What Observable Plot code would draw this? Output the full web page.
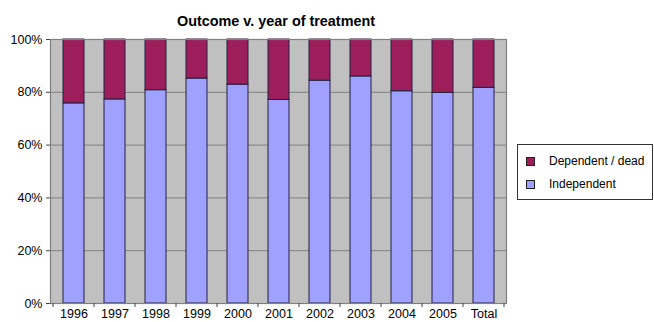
<!DOCTYPE html>
<html>
<head>
<meta charset="utf-8">
<script src="https://cdn.jsdelivr.net/npm/d3@7"></script>
<script src="https://cdn.jsdelivr.net/npm/@observablehq/plot@0.6"></script>
<style>
  body { margin: 0; background: #fff; font-family: "Liberation Sans", Arial, sans-serif; }
  #wrap { position: relative; width: 654px; height: 322px; }
  #title { position: absolute; left: 0; width: 552px; top: 13px; text-align: center; font-weight: bold; font-size: 14.4px; color: #000; }
  #legend { position: absolute; left: 517px; top: 144px; width: 134px; height: 54px; border: 1px solid #333; background: #fff; font-size: 12px; color: #000; }
  .item { position: absolute; left: 8px; display: flex; align-items: center; }
  .sw { width: 7px; height: 7px; border: 1px solid #222; margin-right: 14px; }
</style>
</head>
<body>
<div id="wrap">
  <div id="title">Outcome v. year of treatment</div>
  <div id="legend"></div>
</div>
<script>
// Share of patients independent at follow-up, by year of treatment (percent)
const categories = ["1996", "1997", "1998", "1999", "2000", "2001", "2002", "2003", "2004", "2005", "Total"];
const independent = [75.8, 77.3, 80.8, 85.2, 82.9, 77.1, 84.4, 86.0, 80.4, 79.8, 81.7];
const seriesNames = ["Independent", "Dependent / dead"];
const seriesColors = ["#a0a0ff", "#9c1f5c"];
const yTicks = [0, 20, 40, 60, 80, 100];

const rows = [];
categories.forEach((c, i) => {
  rows.push({year: c, outcome: seriesNames[0], pct: independent[i]});
  rows.push({year: c, outcome: seriesNames[1], pct: 100 - independent[i]});
});

// Tick marks sit on the boundaries between categories
function boundaryTicks(index, scales, values, dimensions) {
  const x = scales.x;
  const bw = x.bandwidth();
  const step = x.step();
  const gap = (step - bw) / 2;
  const y0 = dimensions.height - dimensions.marginBottom;
  const xs = [x(categories[0]) - gap];
  categories.forEach(c => xs.push(x(c) + bw + gap));
  const g = d3.create("svg:g");
  g.selectAll("line").data(xs).join("line")
    .attr("x1", d => d).attr("x2", d => d)
    .attr("y1", y0).attr("y2", y0 + 4)
    .attr("stroke", "#444");
  return g.node();
}

const chart = Plot.plot({
  width: 654,
  height: 322,
  marginLeft: 50,
  marginRight: 148,
  marginTop: 39,
  marginBottom: 19,
  style: {fontFamily: "Liberation Sans, Arial, sans-serif", fontSize: "12.5px", color: "#000", background: "transparent"},
  x: {domain: categories, paddingInner: 0.5, paddingOuter: 0.25, align: 0.5, label: null},
  y: {domain: [0, 100], ticks: yTicks, label: null, tickFormat: d => d + "%"},
  color: {domain: seriesNames, range: seriesColors},
  marks: [
    Plot.frame({fill: "#c0c0c0"}),
    Plot.ruleY(yTicks.slice(1, -1), {stroke: "#808080", strokeWidth: 1}),
    Plot.barY(rows, {x: "year", y: "pct", fill: "outcome", stroke: "#202040", strokeWidth: 1, order: seriesNames}),
    Plot.frame({stroke: "#808080", strokeWidth: 1.2}),
    Plot.axisY({ticks: yTicks, tickFormat: d => d + "%", tickSize: 4, tickPadding: 4, stroke: "#444", fontSize: 12.5}),
    Plot.axisX({tickSize: 0, tickPadding: 5.5, fontSize: 12.5}),
    boundaryTicks
  ]
});
document.getElementById("wrap").appendChild(chart);

// Legend entries, top to bottom
const legend = document.getElementById("legend");
[[seriesNames[1], seriesColors[1], 9], [seriesNames[0], seriesColors[0], 32]].forEach(([name, color, top]) => {
  const it = document.createElement("div");
  it.className = "item";
  it.style.top = top + "px";
  it.innerHTML = `<span class="sw" style="background:${color}"></span><span>${name}</span>`;
  legend.appendChild(it);
});
</script>
</body>
</html>
